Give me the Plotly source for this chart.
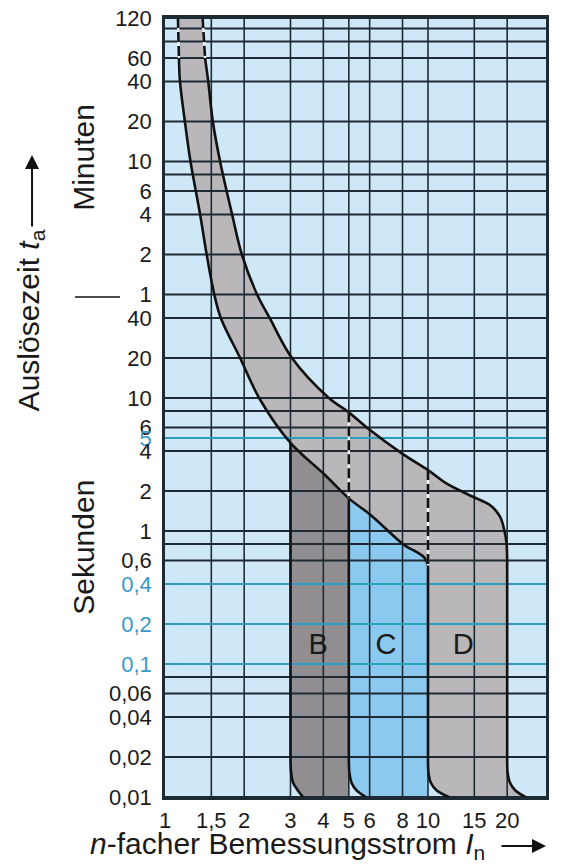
import numpy as np
import plotly.graph_objects as go

# ---------------- data ----------------
X_TICK_VALS = [1, 1.5, 2, 3, 4, 5, 6, 8, 10, 15, 20]
X_TICK_TEXT = ["1", "1,5", "2", "3", "4", "5", "6", "8", "10", "15", "20"]
X_MIN, X_MAX = 1.0, 28.1
Y_MIN, Y_MAX = 0.01, 7200.0

# time in seconds (minutes section: 120 min = 7200 s ... 1 min = 60 s)
Y_TICK_VALS = [7200, 3600, 2400, 1200, 600, 360, 240, 120, 60,
               40, 20, 10, 6, 5, 4, 2, 1, 0.6, 0.4, 0.2, 0.1, 0.06, 0.04, 0.02, 0.01]
Y_TICK_TEXT = ["120", "60", "40", "20", "10", "6", "4", "2", "1",
               "40", "20", "10", "6", "5", "4", "2", "1", "0,6", "0,4", "0,2", "0,1",
               "0,06", "0,04", "0,02", "0,01"]
Y_BLUE = [5, 0.4, 0.2, 0.1]
Y_GRID_EXTRA = [6000, 4800, 480, 8, 0.8, 0.08]

# lower limit of thermal band
LOWER_N = [1.12, 1.13, 1.14, 1.19, 1.25, 1.36, 1.44, 1.54, 1.63, 1.93, 2.3,
           3.0, 4.05, 5.0, 6.05, 8.15, 9.0, 9.7, 10.0]
LOWER_T = [7200, 3600, 2400, 1200, 600, 240, 120, 60, 40, 20, 9.7,
           4.6, 2.65, 1.76, 1.32, 0.78, 0.7, 0.63, 0.55]
# upper limit of thermal band
UPPER_N = [1.39, 1.42, 1.46, 1.52, 1.62, 1.80, 1.96, 2.24, 2.5, 3.04, 4.2,
           5.0, 5.85, 8.0, 10.0, 11.7, 14.8, 17.2, 18.8, 19.6, 19.9, 20.0]
UPPER_T = [7200, 3600, 2400, 1200, 600, 240, 120, 60, 40, 20, 10,
           7.8, 6.0, 3.8, 2.87, 2.29, 1.81, 1.57, 1.28, 0.97, 0.8, 0.6]

# rounded feet of the magnetic trip boundaries
CORNER_T = [0.019, 0.015, 0.0128, 0.0112, 0.01]
B_LEFT_N = [3.0, 3.02, 3.07, 3.2, 3.35]
C_LEFT_N = [5.0, 5.03, 5.12, 5.35, 5.8]
D_LEFT_N = [10.0, 10.05, 10.25, 10.8, 12.0]
D_RIGHT_N = [20.0, 20.1, 20.5, 21.5, 23.5]

LABELS = ["B", "C", "D"]
LABEL_N = [3.82, 6.92, 13.6]
LABEL_T = [0.134, 0.134, 0.134]

# ---------------- styles ----------------
BG = "#cfe8f7"
BAND = "#bab7ba"
BDARK = "#918e91"
CBLUE = "#8cc9ee"
GRID = "#1e2b35"
TEAL = "#2b9fc0"
TXTBLUE = "#3a98c9"
BLACK = "#111111"
FONT = "Liberation Sans, Arial, sans-serif"
SMOOTH = 1.0

fig = go.Figure()

i3 = LOWER_N.index(3.0)
i5 = LOWER_N.index(5.0)


def area(xs, ys, color):
    fig.add_trace(go.Scatter(x=xs, y=ys, fill="toself", fillcolor=color,
                             mode="lines", line=dict(width=0),
                             hoverinfo="skip", showlegend=False))


# thermal band + D region
area(UPPER_N + D_RIGHT_N + D_LEFT_N[::-1] + LOWER_N[::-1],
     UPPER_T + CORNER_T + CORNER_T[::-1] + LOWER_T[::-1], BAND)
# B region
area(LOWER_N[i3:i5 + 1] + [5.0, B_LEFT_N[-1]] + B_LEFT_N[::-1],
     LOWER_T[i3:i5 + 1] + [Y_MIN, Y_MIN] + CORNER_T[::-1], BDARK)
# C region
area(LOWER_N[i5:] + [10.0, C_LEFT_N[-1]] + C_LEFT_N[::-1],
     LOWER_T[i5:] + [Y_MIN, Y_MIN] + CORNER_T[::-1], CBLUE)

# grid lines (on top of fills)
gx, gy = [], []
for v in [t for t in Y_TICK_VALS if t not in Y_BLUE] + Y_GRID_EXTRA:
    gx += [X_MIN, X_MAX, None]
    gy += [v, v, None]
fig.add_trace(go.Scatter(x=gx, y=gy, mode="lines", line=dict(color=GRID, width=2),
                         hoverinfo="skip", showlegend=False))
vx, vy = [], []
for v in X_TICK_VALS[1:]:
    vx += [v, v, None]
    vy += [Y_MIN, Y_MAX, None]
fig.add_trace(go.Scatter(x=vx, y=vy, mode="lines", line=dict(color=GRID, width=1.6),
                         hoverinfo="skip", showlegend=False))
tx, ty = [], []
for v in Y_BLUE:
    tx += [X_MIN, X_MAX, None]
    ty += [v, v, None]
fig.add_trace(go.Scatter(x=tx, y=ty, mode="lines", line=dict(color=TEAL, width=2),
                         hoverinfo="skip", showlegend=False))


def curve(xs, ys, dash=None, width=2.6, color=BLACK, shape="spline"):
    fig.add_trace(go.Scatter(x=xs, y=ys, mode="lines",
                             line=dict(color=color, width=width, dash=dash,
                                       shape=shape, smoothing=SMOOTH),
                             hoverinfo="skip", showlegend=False))


# solid outlines: thermal curves (spline), vertical flanks (straight), feet (spline)
curve(LOWER_N[1:], LOWER_T[1:])
curve(UPPER_N[1:], UPPER_T[1:])
curve([LOWER_N[-1], D_LEFT_N[0]], [LOWER_T[-1], CORNER_T[0]], shape="linear")
curve([UPPER_N[-1], D_RIGHT_N[0]], [UPPER_T[-1], CORNER_T[0]], shape="linear")
curve([LOWER_N[i3], B_LEFT_N[0]], [LOWER_T[i3], CORNER_T[0]], shape="linear")
curve([LOWER_N[i5], C_LEFT_N[0]], [LOWER_T[i5], CORNER_T[0]], shape="linear")
for foot in (B_LEFT_N, C_LEFT_N, D_LEFT_N, D_RIGHT_N):
    curve(foot, CORNER_T)

# dashed segments (white under black dashes)
dashed = [
    (LOWER_N[:2], LOWER_T[:2]),
    (UPPER_N[:2], UPPER_T[:2]),
    ([5.0, 5.0], [UPPER_T[UPPER_N.index(5.0)], LOWER_T[i5]]),
    ([10.0, 10.0], [UPPER_T[UPPER_N.index(10.0)], LOWER_T[-1]]),
]
for xs, ys in dashed:
    curve(xs, ys, width=2.4, color="#f4f4f4", shape="linear")
    curve(xs, ys, dash="10px,4px", width=2.6, shape="linear")

# B, C, D labels
fig.add_trace(go.Scatter(x=LABEL_N, y=LABEL_T, mode="text", text=LABELS,
                         textfont=dict(family=FONT, size=29, color="#1a1a1a"),
                         hoverinfo="skip", showlegend=False))

ytext = [f"<span style='color:{TXTBLUE}'>{t}</span>" if v in Y_BLUE else t
         for v, t in zip(Y_TICK_VALS, Y_TICK_TEXT)]

# page has an 8px body margin: figure is 568x858 so the plot lands at x 165-546, y 18-797
fig.update_layout(
    width=568, height=858,
    margin=dict(l=157, r=30, t=10, b=69),
    paper_bgcolor="white", plot_bgcolor=BG,
    font=dict(family=FONT, color="#1a1a1a"),
    xaxis=dict(type="log", range=[np.log10(X_MIN), np.log10(X_MAX)], automargin=False,
               showgrid=False, zeroline=False, showline=True, linecolor=GRID,
               linewidth=2.5, mirror=True, ticks="", tickvals=X_TICK_VALS,
               ticktext=X_TICK_TEXT, tickfont=dict(size=22, family=FONT),
               ticklabelstandoff=2, ticklabeloverflow="allow"),
    yaxis=dict(type="log", range=[np.log10(Y_MIN), np.log10(Y_MAX)], automargin=False,
               showgrid=False, zeroline=False, showline=True, linecolor=GRID,
               linewidth=2.5, mirror=True, ticks="", tickvals=Y_TICK_VALS,
               ticktext=ytext, tickfont=dict(size=22, family=FONT),
               ticklabelstandoff=6, ticklabeloverflow="allow"),
)

ann = dict(xref="paper", yref="paper", xanchor="center", yanchor="middle",
           showarrow=False)
fig.add_annotation(text="Minuten", x=-0.213, y=0.8216, textangle=-90,
                   font=dict(size=30, family=FONT), **ann)
fig.add_annotation(text="Sekunden", x=-0.213, y=0.321, textangle=-90,
                   font=dict(size=30, family=FONT), **ann)
fig.add_shape(type="line", xref="paper", yref="paper", x0=-0.236, x1=-0.118,
              y0=0.6418, y1=0.6418, line=dict(color=BLACK, width=1.5))
fig.add_annotation(text="Auslösezeit <i>t</i><sub>a</sub>", x=-0.354, y=0.612,
                   textangle=-90, font=dict(size=30, family=FONT), **ann)
fig.add_annotation(text="", xref="paper", yref="paper", x=-0.349, y=0.824,
                   ax=0, ay=73, showarrow=True, arrowhead=2, arrowsize=1.4,
                   arrowwidth=2, arrowcolor=BLACK)
fig.add_annotation(text="<i>n</i>-facher Bemessungsstrom <i>I</i><sub>n</sub>",
                   xref="paper", yref="paper", x=-0.202, y=-0.0629, xanchor="left",
                   yanchor="middle", showarrow=False, font=dict(size=30, family=FONT))
fig.add_annotation(text="", xref="paper", yref="paper", x=1.0, y=-0.0629,
                   ax=-46, ay=0, showarrow=True, arrowhead=2, arrowsize=1.4,
                   arrowwidth=2, arrowcolor=BLACK)

fig.write_html("out.html")
